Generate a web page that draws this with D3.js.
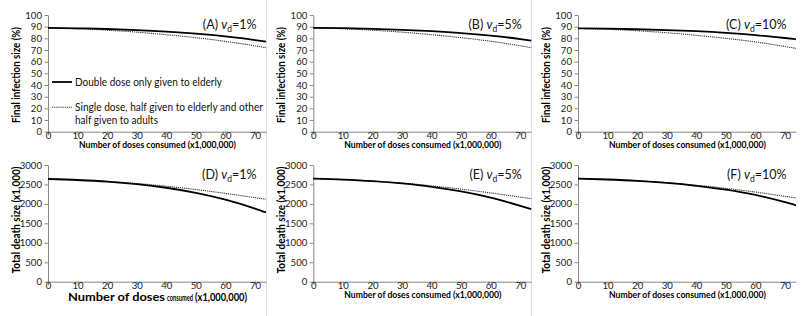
<!DOCTYPE html>
<html><head><meta charset="utf-8">
<script src="https://cdn.jsdelivr.net/npm/d3@7"></script>
<style>body{margin:0;background:#fff}svg{display:block}text{font-family:Lato,"Open Sans",sans-serif}</style>
</head><body><svg id="c" width="805" height="316"></svg>
<script>
const doses = [0, 10, 20, 30, 40, 50, 60, 70, 73.7];
const xTicks = [0, 10, 20, 30, 40, 50, 60, 70];
const infTicks = [0, 10, 20, 30, 40, 50, 60, 70, 80, 90, 100];
const deathTicks = [0, 500, 1000, 1500, 2000, 2500, 3000];
const panelLetters = ["A", "B", "C", "D", "E", "F"];
const vdValues = ["1%", "5%", "10%", "1%", "5%", "10%"];
const seriesNames = ["Double dose only given to elderly", "Single dose, half given to elderly and other", "half given to adults"];

const infA_double = [89, 88.6, 88.0, 87.1, 85.8, 84.0, 81.6, 78.5, 77.1];
const infA_single = [89, 88.2, 87.0, 85.3, 83.1, 80.6, 77.4, 73.6, 72.0];
const infB_double = [89, 88.7, 88.1, 87.3, 86.1, 84.5, 82.3, 79.4, 78.1];
const infB_single = [89, 88.2, 87.0, 85.3, 83.1, 80.6, 77.5, 73.6, 72.0];
const infC_double = [88.5, 88.3, 87.8, 87.1, 86.1, 84.7, 82.8, 80.3, 79.2];
const infC_single = [88.5, 87.7, 86.5, 84.8, 82.6, 80.0, 76.9, 73.0, 71.4];

const deathD_double = [2640, 2615, 2575, 2510, 2415, 2285, 2110, 1880, 1780];
const deathD_single = [2640, 2615, 2578, 2525, 2455, 2370, 2270, 2160, 2120];
const deathE_double = [2650, 2625, 2585, 2525, 2440, 2320, 2160, 1950, 1865];
const deathE_single = [2650, 2625, 2588, 2535, 2465, 2380, 2282, 2175, 2135];
const deathF_double = [2650, 2627, 2592, 2540, 2465, 2365, 2230, 2045, 1965];
const deathF_single = [2650, 2627, 2594, 2545, 2480, 2400, 2305, 2195, 2155];

const doubleSeries = [infA_double, infB_double, infC_double, deathD_double, deathE_double, deathF_double];
const singleSeries = [infA_single, infB_single, infC_single, deathD_single, deathE_single, deathF_single];

const svg = d3.select("#c");
const colOff = [0, 265.3, 530];
const rows = [{top: 15, bottom: 131.7, max: 100, ticks: infTicks, title: "Final infection size (%)", tlen: 96, tcy: 75},
              {top: 165, bottom: 281.7, max: 3000, ticks: deathTicks, title: "Total death size (x1,000)", tlen: 107, tcy: 220}];
const axisCol = "#868686";

// frame lines
[266.5, 531.5].forEach(fx => svg.append("line").attr("x1", fx).attr("x2", fx).attr("y1", 0).attr("y2", 316)
  .attr("stroke", "#e0e0e0").attr("stroke-width", 1));

for (let p = 0; p < 6; p++) {
  const r = Math.floor(p / 3), c = p % 3, R = rows[r], off = colOff[c];
  const x = d3.scaleLinear().domain([0, 73.7]).range([off + 48, off + 48 + 73.7 * (207 / 70)]);
  const y = d3.scaleLinear().domain([0, R.max]).range([R.bottom, R.top]);
  const g = svg.append("g");

  const yAx = g.append("g").attr("transform", `translate(${off + 48},0)`)
    .call(d3.axisLeft(y).tickValues(R.ticks).tickFormat(d3.format("d")).tickSize(3.5).tickPadding(2.5).tickSizeOuter(0));
  const xAx = g.append("g").attr("transform", `translate(0,${R.bottom})`)
    .call(d3.axisBottom(x).tickValues(xTicks).tickFormat(d3.format("d")).tickSize(3.5).tickSizeOuter(0));
  [yAx, xAx].forEach(a => {
    a.select(".domain").attr("stroke", axisCol);
    a.selectAll(".tick line").attr("stroke", axisCol);
    a.selectAll(".tick text").attr("fill", "#222").style("font-size", "9.6px");
  });
  xAx.selectAll(".tick text").attr("dy", 0).attr("y", 6.9);

  // y title
  g.append("text").attr("transform", `translate(${off + 19.8},${R.tcy}) rotate(-90)`)
    .attr("text-anchor", "middle").style("font-size", "10.8px").style("font-weight", "bold")
    .attr("textLength", R.tlen).attr("lengthAdjust", "spacingAndGlyphs").text(R.title);

  // x title
  if (p === 3) {
    const by = 300.5;
    g.append("text").attr("x", off + 68).attr("y", by).style("font-size", "12px").style("font-weight", "bold")
      .attr("textLength", 97).attr("lengthAdjust", "spacingAndGlyphs").text("Number of doses");
    g.append("text").attr("x", off + 167).attr("y", by).style("font-size", "9px").style("font-weight", "bold")
      .attr("textLength", 26).attr("lengthAdjust", "spacingAndGlyphs").text("consumed");
    g.append("text").attr("x", off + 195).attr("y", by).style("font-size", "12px").style("font-weight", "bold")
      .attr("textLength", 52).attr("lengthAdjust", "spacingAndGlyphs").text("(x1,000,000)");
  } else {
    g.append("text").attr("x", off + 157.5).attr("y", r === 0 ? 148.2 : 298.2).attr("text-anchor", "middle")
      .style("font-size", "9.6px").style("font-weight", "bold")
      .attr("textLength", 157).attr("lengthAdjust", "spacingAndGlyphs").text("Number of doses consumed (x1,000,000)");
  }

  // lines
  const line = d3.line().x((d, i) => x(doses[i])).y(d => y(d)).curve(d3.curveMonotoneX);
  g.append("path").datum(singleSeries[p]).attr("d", line).attr("fill", "none")
    .attr("stroke", "#333").attr("stroke-width", 1.1).attr("stroke-dasharray", "1.2,0.9");
  g.append("path").datum(doubleSeries[p]).attr("d", line).attr("fill", "none")
    .attr("stroke", "#000").attr("stroke-width", 1.8);

  // panel label
  const lbl = g.append("text").attr("x", off + 256.5).attr("y", r === 0 ? 28.5 : 179)
    .attr("text-anchor", "end").style("font-size", "12.5px").attr("fill", "#111");
  lbl.append("tspan").text(`(${panelLetters[p]}) `);
  lbl.append("tspan").style("font-style", "italic").text("v");
  lbl.append("tspan").attr("dy", 3).style("font-size", "8.5px").text("d");
  lbl.append("tspan").attr("dy", -3).text("=" + vdValues[p]);
}

// legend in panel A
const lg = svg.append("g");
lg.append("line").attr("x1", 52).attr("x2", 72).attr("y1", 82).attr("y2", 82).attr("stroke", "#000").attr("stroke-width", 1.8);
lg.append("text").attr("x", 75).attr("y", 85.8).style("font-size", "11.5px").attr("fill", "#111")
  .attr("textLength", 147).attr("lengthAdjust", "spacingAndGlyphs").text(seriesNames[0]);
lg.append("line").attr("x1", 52).attr("x2", 72).attr("y1", 107.3).attr("y2", 107.3).attr("stroke", "#333")
  .attr("stroke-width", 1.1).attr("stroke-dasharray", "1.2,0.9");
lg.append("text").attr("x", 75).attr("y", 111).style("font-size", "11.5px").attr("fill", "#111")
  .attr("textLength", 188).attr("lengthAdjust", "spacingAndGlyphs").text(seriesNames[1]);
lg.append("text").attr("x", 75).attr("y", 123.5).style("font-size", "11.5px").attr("fill", "#111")
  .attr("textLength", 83).attr("lengthAdjust", "spacingAndGlyphs").text(seriesNames[2]);
</script></body></html>
